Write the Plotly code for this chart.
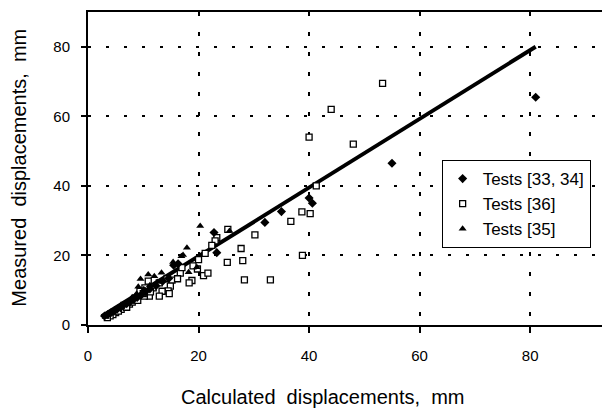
import plotly.graph_objects as go

# ---- data ----
series_names = ["Tests [33, 34]", "Tests [36]", "Tests [35]"]

diam_x = [81.0, 55.0, 40.0, 40.6, 35.0, 32.0, 22.8, 23.3, 16.3, 15.5,
          3.0, 3.6, 4.2, 4.8, 5.3, 5.9, 6.4, 7.0, 7.6, 8.2, 8.9, 9.6, 10.4, 11.2, 12.3, 13.5, 14.6]
diam_y = [65.5, 46.5, 36.5, 35.0, 32.6, 29.5, 26.6, 20.8, 17.6, 17.2,
          2.6, 3.0, 3.6, 4.1, 4.6, 5.0, 5.7, 6.1, 6.6, 7.3, 7.9, 8.6, 9.6, 10.4, 11.3, 12.6, 13.4]

sq_x = [53.3, 44.0, 40.0, 48.0, 41.3, 38.7, 40.2, 36.7, 30.2, 38.8,
        27.7, 28.0, 25.2, 28.3, 33.0, 25.3, 23.3, 23.0, 22.4, 21.2,
        20.0, 19.8, 16.7, 18.8, 20.9, 21.7, 14.3, 15.2, 16.2, 14.9,
        14.5, 12.9, 11.8, 10.9, 10.3, 9.4, 13.4, 11.1, 10.2, 12.9,
        14.7, 18.3, 8.5, 7.5, 6.5, 6.0, 5.0, 4.5, 4.0, 3.5,
        5.5, 7.0, 8.0, 9.0, 10.0, 11.3, 17.0, 19.0]
sq_y = [69.5, 62.0, 54.0, 52.0, 40.0, 32.5, 32.0, 29.8, 25.9, 20.0,
        22.0, 18.5, 18.0, 13.0, 13.0, 27.5, 25.1, 24.2, 22.9, 20.6,
        18.8, 16.1, 14.9, 12.8, 14.2, 14.9, 13.3, 12.9, 13.3, 11.2,
        9.8, 12.1, 10.7, 12.6, 10.7, 9.7, 9.7, 8.3, 8.3, 8.3,
        9.0, 12.1, 7.6, 6.0, 5.6, 4.5, 3.6, 3.0, 2.6, 2.1,
        4.0, 5.1, 6.6, 7.1, 9.0, 9.5, 16.5, 17.0]

tri_x = [20.3, 25.6, 17.9, 16.9, 19.7, 18.2, 15.4, 17.2, 10.9, 9.5,
         12.0, 13.3, 3.2, 4.1, 5.1, 6.0, 7.1, 8.0, 8.8, 9.1, 10.1, 11.2, 12.6]
tri_y = [28.5, 27.0, 22.2, 19.8, 16.6, 15.2, 18.1, 20.1, 14.5, 13.2,
         14.0, 15.0, 2.3, 3.2, 4.6, 5.2, 6.2, 8.0, 9.0, 11.0, 10.3, 11.4, 12.4]

fit_x = [2.5, 81.0]
fit_y = [2.5, 80.0]

x_ticks = [0, 20, 40, 60, 80]
y_ticks = [0, 20, 40, 60, 80]
x_title = "Calculated\u00a0\u00a0displacements,\u00a0\u00a0mm"
y_title = "Measured\u00a0\u00a0displacements,\u00a0\u00a0mm"

FONT = "Liberation Sans, Arial, Helvetica, sans-serif"

fig = go.Figure()
fig.add_trace(go.Scatter(x=fit_x, y=fit_y, mode="lines",
                         line=dict(color="black", width=4), showlegend=False,
                         hoverinfo="skip"))
fig.add_trace(go.Scatter(x=sq_x, y=sq_y, mode="markers", name=series_names[1],
                         legendrank=2,
                         marker=dict(symbol="square", size=6, color="white",
                                     line=dict(color="black", width=1.3))))
fig.add_trace(go.Scatter(x=diam_x, y=diam_y, mode="markers", name=series_names[0],
                         legendrank=1,
                         marker=dict(symbol="diamond", size=7, color="black",
                                     line=dict(width=0))))
fig.add_trace(go.Scatter(x=tri_x, y=tri_y, mode="markers", name=series_names[2],
                         legendrank=3,
                         marker=dict(symbol="triangle-up", size=7, color="black",
                                     line=dict(width=0))))

fig.update_layout(
    width=602, height=408,
    margin=dict(l=88, r=0, t=12, b=83, autoexpand=False),
    paper_bgcolor="white", plot_bgcolor="white",
    font=dict(family=FONT, size=15, color="black"),
    showlegend=True,
    legend=dict(x=0.688, y=0.527, xanchor="left", yanchor="top",
                bordercolor="black", borderwidth=1, bgcolor="white",
                font=dict(family=FONT, size=17, color="black"),
                tracegroupgap=0, itemwidth=30),
    annotations=[
        dict(text=x_title, xref="paper", yref="paper", x=0.457, y=-0.23,
             xanchor="center", yanchor="middle", showarrow=False,
             font=dict(family=FONT, size=20, color="black")),
        dict(text=y_title, xref="paper", yref="paper", x=-0.136, y=0.503,
             xanchor="center", yanchor="middle", showarrow=False, textangle=-90,
             font=dict(family=FONT, size=20, color="black")),
    ],
)

fig.update_xaxes(range=[0, 93], tickvals=x_ticks, ticktext=[str(v) for v in x_ticks],
                 automargin=False,
                 showline=True, linecolor="black", linewidth=1.5, mirror=True,
                 ticks="outside", ticklen=6, tickwidth=1.5, tickcolor="black",
                 ticklabelstandoff=10,
                 showgrid=True, gridcolor="black", gridwidth=1.5, griddash="4px,16px",
                 zeroline=False, tickfont=dict(size=15))
fig.update_yaxes(range=[0, 90], tickvals=y_ticks, ticktext=[str(v) for v in y_ticks],
                 automargin=False,
                 showline=True, linecolor="black", linewidth=2,
                 ticks="outside", ticklen=5, tickwidth=1.5, tickcolor="black",
                 ticklabelstandoff=8,
                 showgrid=True, gridcolor="black", gridwidth=1.5, griddash="3px,15px",
                 zeroline=False, tickfont=dict(size=15))

fig.write_html("out.html")
